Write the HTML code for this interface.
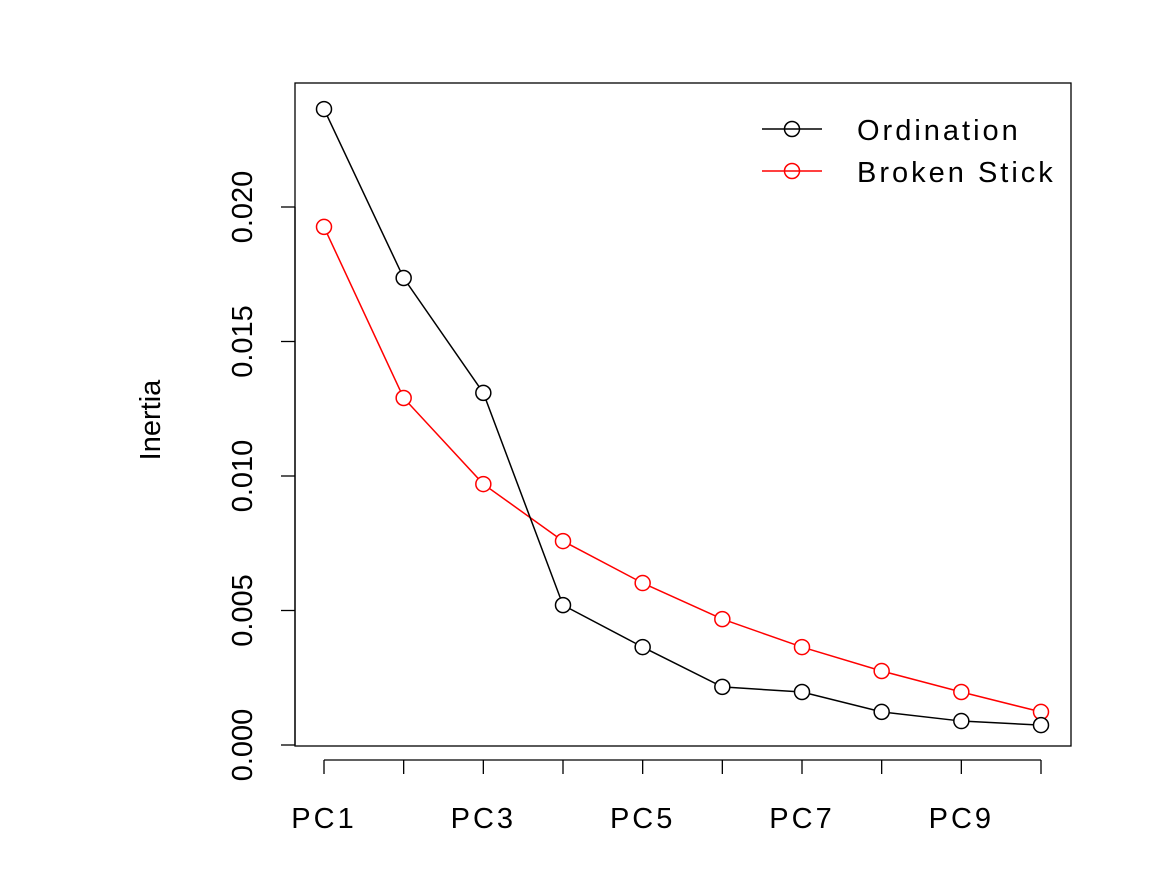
<!DOCTYPE html>
<html><head><meta charset="utf-8"><style>
body{margin:0;background:#fff}
text{font-family:"Liberation Sans",Arial,sans-serif;font-size:29px;fill:#000}
.wide{letter-spacing:3px}
</style></head><body>
<svg id="chart" width="1155" height="877">
<rect x="295" y="83" width="776" height="663" fill="none" stroke="#000" stroke-width="1.3"/>
<g id="axes"></g>
<g id="series"></g>
<text x="160" y="420" text-anchor="middle" transform="rotate(-90 160 420)">Inertia</text>
<g>
<g>
<line x1="762" y1="129" x2="822" y2="129" stroke="#000" stroke-width="1.5"/>
<circle cx="792" cy="129" r="7.5" fill="none" stroke="#000" stroke-width="1.5"/>
<text class="wide" x="857" y="140">Ordination</text></g>
<g>
<line x1="762" y1="171" x2="822" y2="171" stroke="#f00" stroke-width="1.5"/>
<circle cx="792" cy="171" r="7.5" fill="none" stroke="#f00" stroke-width="1.5"/>
<text class="wide" x="857" y="182">Broken Stick</text></g>
</g>
</svg>
<script>
const categories=["PC1","PC2","PC3","PC4","PC5","PC6","PC7","PC8","PC9","PC10"];
const ordination=[0.02364,0.01736,0.01309,0.0052,0.00364,0.00216,0.00197,0.00123,0.00089,0.00074];
const brokenStick=[0.01926,0.0129,0.0097,0.00758,0.00602,0.00468,0.00364,0.00275,0.00197,0.00123];
const yTicks=[0,0.005,0.010,0.015,0.020];
const yTickLabels=["0.000","0.005","0.010","0.015","0.020"];
const xLabelIdx=[0,2,4,6,8];
const NS="http://www.w3.org/2000/svg";
function xs(i){return 324+i*(1041-324)/9;}
function ys(v){return 745-v*26900;}
function mk(t,a,p){const e=document.createElementNS(NS,t);for(const k in a)e.setAttribute(k,a[k]);p.appendChild(e);return e;}
const ax=document.getElementById('axes');
const yl=mk('line',{x1:295,x2:295,y1:ys(0),y2:ys(0.020),stroke:'#000','stroke-width':1.3},ax);


yTicks.forEach((v,i)=>{
 const y=ys(v);
 const t=mk('line',{x1:281,x2:295,y1:y,y2:y,stroke:'#000','stroke-width':1.3},ax);
 
 
 const l=mk('text',{x:252,y:y,'text-anchor':'middle',transform:`rotate(-90 252 ${y})`},ax);
 l.textContent=yTickLabels[i];
 
 
});
const xl=mk('line',{x1:xs(0),x2:xs(9),y1:760,y2:760,stroke:'#000','stroke-width':1.3},ax);


categories.forEach((c,i)=>{
 const t=mk('line',{x1:xs(i),x2:xs(i),y1:760,y2:774,stroke:'#000','stroke-width':1.3},ax);
 
 
 if(xLabelIdx.includes(i)){
  const l=mk('text',{x:xs(i),y:828,'text-anchor':'middle','class':'wide'},ax);
  l.textContent=c;
  
  
 }
});
const sg=document.getElementById('series');
function draw(vals,color,name){
 const p=mk('polyline',{points:vals.map((v,i)=>xs(i)+','+ys(v)).join(' '),fill:'none',stroke:color,'stroke-width':1.5},sg);
 
 
 vals.forEach((v,i)=>{
  const c=mk('circle',{cx:xs(i),cy:ys(v),r:7.5,fill:'#fff',stroke:color,'stroke-width':1.5},sg);
  
  
 });
}
draw(brokenStick,'#f00','broken-stick');
draw(ordination,'#000','ordination');
</script>
</body></html>
